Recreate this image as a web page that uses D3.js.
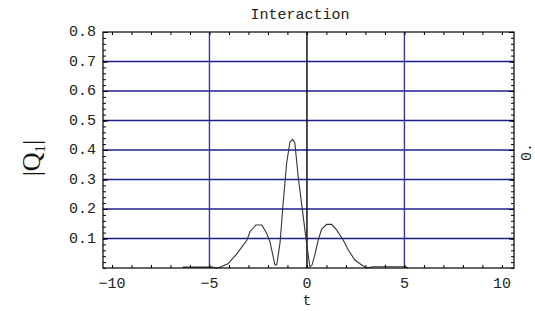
<!DOCTYPE html>
<html>
<head>
<meta charset="utf-8">
<script src="https://cdn.jsdelivr.net/npm/d3@7"></script>
<style>
  body { margin: 0; background: #fff; }
  svg { display: block; }
</style>
</head>
<body>
<div id="chart"></div>
<script>
// Datos
const tValues = [-6.37, -4.82, -4.72, -4.56, -4.05, -3.61, -3.09, -2.92, -2.62, -2.31, -2.07, -1.9, -1.64, -1.55,
                 -1.38, -1.22, -1.04, -0.87, -0.73, -0.62, -0.45, -0.19, -0.02, 0.15, 0.26, 0.41, 0.58, 0.75,
                 1.01, 1.27, 1.52, 1.86, 2.12, 2.46, 2.81, 3.06, 3.4, 5.08, 5.18];
const qValues = [0.003, 0.003, 0.0, 0.0, 0.014, 0.047, 0.093, 0.123, 0.146, 0.146, 0.118, 0.09, 0.01, 0.01,
                 0.085, 0.22, 0.356, 0.428, 0.436, 0.424, 0.31, 0.174, 0.085, 0.004, 0.01, 0.045, 0.095, 0.131,
                 0.148, 0.148, 0.129, 0.095, 0.061, 0.027, 0.01, 0.0, 0.004, 0.004, 0.0];
const xTicks = [-10, -5, 0, 5, 10];
const yTicks = [0.1, 0.2, 0.3, 0.4, 0.5, 0.6, 0.7, 0.8];
const xGrid = [-5, 5];
const yGrid = [0.1, 0.2, 0.3, 0.4, 0.5, 0.6, 0.7];

const data = tValues.map((t, i) => ({ t: t, q: qValues[i] }));

const W = 535, H = 311;
const margin = { top: 32, right: 21, bottom: 43, left: 103 };
const width = W - margin.left - margin.right;
const height = H - margin.top - margin.bottom;

const svg = d3.select("#chart").append("svg")
    .attr("width", W)
    .attr("height", H);

const g = svg.append("g")
    .attr("transform", `translate(${margin.left},${margin.top})`);

const x = d3.scaleLinear().domain([-10.46, 10.62]).range([0, width]);
const y = d3.scaleLinear().domain([0, 0.8]).range([height, 0]);

const mono = "'Liberation Mono', 'Courier New', monospace";

// Rejilla
g.selectAll(".hgrid").data(yGrid).enter().append("line")
    .attr("x1", 0).attr("x2", width)
    .attr("y1", d => y(d)).attr("y2", d => y(d))
    .attr("stroke", "#1f1f8c").attr("stroke-width", 1.4);

g.selectAll(".vgrid").data(xGrid).enter().append("line")
    .attr("x1", d => x(d)).attr("x2", d => x(d))
    .attr("y1", 0).attr("y2", height)
    .attr("stroke", "#3535a0").attr("stroke-width", 1.4);

// eje en t = 0
g.append("line")
    .attr("x1", x(0)).attr("x2", x(0))
    .attr("y1", 0).attr("y2", height)
    .attr("stroke", "#000").attr("stroke-width", 1.4);

// Curva
g.append("path")
    .datum(data)
    .attr("fill", "none")
    .attr("stroke", "#333")
    .attr("stroke-width", 1.1)
    .attr("d", d3.line().x(d => x(d.t)).y(d => y(d.q)));

// Marco
g.append("rect")
    .attr("x", 0).attr("y", 0)
    .attr("width", width).attr("height", height)
    .attr("fill", "none")
    .attr("stroke", "#000")
    .attr("stroke-width", 1.2);

// Marcas (hacia dentro)
const xTickVals = d3.range(-10, 11, 1);
g.append("g")
    .attr("transform", `translate(0,${height})`)
    .call(d3.axisBottom(x).tickValues(xTickVals).tickSize(-3).tickFormat(""))
    .call(a => a.select(".domain").remove());
g.append("g")
    .call(d3.axisTop(x).tickValues(xTickVals).tickSize(-3).tickFormat(""))
    .call(a => a.select(".domain").remove());

const yMinor = d3.range(0, 0.801, 0.02);
g.append("g")
    .call(d3.axisLeft(y).tickValues(yMinor).tickSize(-3).tickFormat(""))
    .call(a => a.select(".domain").remove());
g.append("g")
    .attr("transform", `translate(${width},0)`)
    .call(d3.axisRight(y).tickValues(yMinor).tickSize(-3).tickFormat(""))
    .call(a => a.select(".domain").remove());
g.append("g")
    .call(d3.axisLeft(y).tickValues(yTicks).tickSize(-5).tickFormat(""))
    .call(a => a.select(".domain").remove());
g.append("g")
    .attr("transform", `translate(${width},0)`)
    .call(d3.axisRight(y).tickValues(yTicks).tickSize(-5).tickFormat(""))
    .call(a => a.select(".domain").remove());

// Etiquetas de marcas
g.selectAll(".xlab").data(xTicks).enter().append("text")
    .attr("x", d => x(d))
    .attr("y", height + 20)
    .attr("text-anchor", "middle")
    .attr("font-family", mono)
    .attr("font-size", "15px")
    .attr("fill", "#222")
    .text(d => d < 0 ? "\u2212" + Math.abs(d) : d);

g.selectAll(".ylab").data(yTicks).enter().append("text")
    .attr("x", -7)
    .attr("y", d => y(d) + 4)
    .attr("text-anchor", "end")
    .attr("font-family", mono)
    .attr("font-size", "15px")
    .attr("fill", "#222")
    .text(d => d.toFixed(1));

// Título
svg.append("text")
    .attr("x", 300)
    .attr("y", 19)
    .attr("text-anchor", "middle")
    .attr("font-family", mono)
    .attr("font-size", "15px")
    .attr("fill", "#222")
    .text("Interaction");

// Etiqueta eje X
svg.append("text")
    .attr("x", 307)
    .attr("y", 305)
    .attr("text-anchor", "middle")
    .attr("font-family", mono)
    .attr("font-size", "15px")
    .attr("fill", "#222")
    .text("t");

// Etiqueta eje Y
const ylab = svg.append("text")
    .attr("transform", "translate(40,158) rotate(-90)")
    .attr("text-anchor", "middle")
    .attr("font-family", "'Liberation Serif', 'Times New Roman', serif")
    .attr("font-size", "26px")
    .attr("fill", "#111");
ylab.append("tspan").text("|Q");
ylab.append("tspan").attr("font-size", "15px").attr("dy", 5).text("1");
ylab.append("tspan").attr("dy", -5).text("|");

// Etiqueta lado derecho
svg.append("text")
    .attr("transform", "translate(531,152) rotate(-90)")
    .attr("text-anchor", "middle")
    .attr("font-family", mono)
    .attr("font-size", "15px")
    .attr("fill", "#222")
    .text("0.");
</script>
</body>
</html>
